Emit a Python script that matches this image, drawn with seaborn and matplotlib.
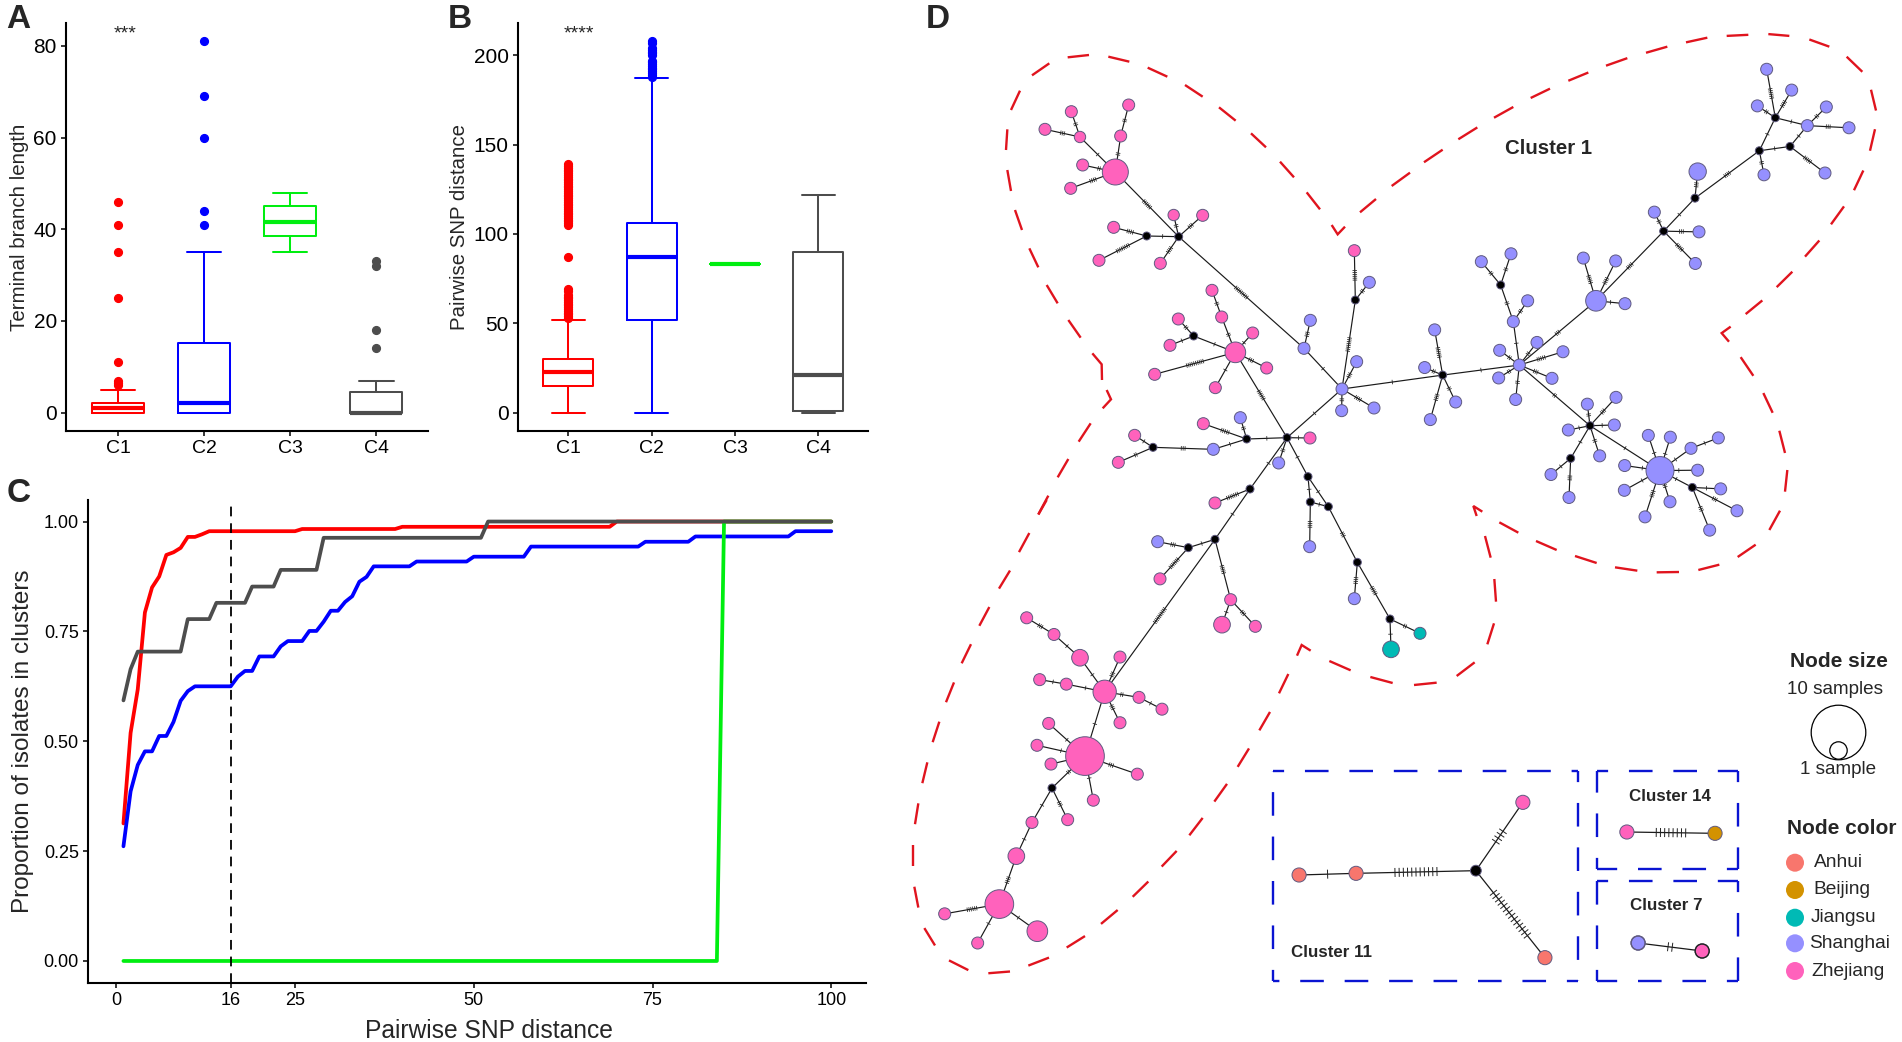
import numpy as np
import pandas as pd
import matplotlib
matplotlib.use("Agg")
import matplotlib.pyplot as plt
from matplotlib.collections import LineCollection
import seaborn as sns

# ---------- Panels A / B: box summaries (lo, q1, median, q3, hi) and outliers ----------
clusters = ["C1", "C2", "C3", "C4"]
cluster_colors = ["#FF0000", "#0000FF", "#00EE10", "#4D4D4D"]

branch_c1 = (0, 0, 1, 2, 5)
branch_c2 = (0, 0, 2, 15.3, 35)
branch_c3 = (35, 38.5, 41.5, 45, 48)
branch_c4 = (0, 0, 0, 4.5, 7)
branch_out_c1 = [6, 6.5, 7, 11, 25, 35, 41, 46]
branch_out_c2 = [41, 44, 60, 69, 81]
branch_out_c3 = []
branch_out_c4 = [14, 18, 32, 33]

snp_c1 = (0, 15, 23, 30, 52)
snp_c2 = (0, 52, 87, 106, 187)
snp_c3 = (83, 83, 83, 83, 83)
snp_c4 = (0, 1, 21, 90, 122)
snp_out_c1 = [53, 54, 55, 56, 57, 58, 59, 60, 61, 62, 63, 64, 65, 66, 68, 69, 87,
              105, 106, 107, 108, 109, 110, 111, 112, 113, 114, 115, 116, 117, 118, 119, 120,
              121, 122, 123, 124, 125, 126, 127, 128, 129, 130, 131, 132, 133, 134, 135, 136,
              137, 138, 139]
snp_out_c2 = [188, 189, 190, 191, 192, 193, 194, 195, 196, 197, 200, 201, 202, 203, 204, 207, 208]
snp_out_c3 = []
snp_out_c4 = []

# ---------- Panel C: cumulative curves (SNP distance, proportion) ----------
red_x = [1, 2, 3, 4, 5, 6, 7, 8, 9, 10, 11, 12, 13, 25, 26, 39, 40, 69, 70, 100]
red_y = [.313, .519, .618, .793, .85, .875, .924, .93, .94, .965, .965, .971, .978, .978, .983,
         .983, .988, .988, 1, 1]
blue_x = [1, 2, 3, 4, 5, 6, 7, 8, 9, 10, 11, 16, 17, 18, 19, 20, 22, 23, 24, 26, 27, 28, 29, 30,
          31, 32, 33, 34, 35, 36, 41, 42, 49, 50, 57, 58, 73, 74, 80, 81, 94, 95, 100]
blue_y = [.261, .386, .446, .477, .477, .512, .512, .544, .592, .614, .625, .625, .647, .66, .66,
          .693, .693, .716, .728, .728, .751, .751, .772, .797, .797, .817, .83, .863, .874, .898,
          .898, .909, .909, .92, .92, .943, .943, .954, .954, .966, .966, .978, .978]
green_x = [1, 84, 85, 100]
green_y = [0, 0, 1, 1]
grey_x = [1, 2, 3, 9, 10, 13, 14, 18, 19, 22, 23, 28, 29, 51, 52, 100]
grey_y = [.593, .664, .704, .704, .778, .778, .815, .815, .852, .852, .89, .89, .963, .963, 1, 1]
c_xticks = [0, 16, 25, 50, 75, 100]
c_yticks = [0, .25, .5, .75, 1]
threshold = 16

province_colors = {"Anhui": "#F8766D", "Beijing": "#D39200", "Jiangsu": "#00BAB5",
                   "Shanghai": "#9590FF", "Zhejiang": "#FF62BC", "Inferred": "#000000"}
P, L, J, A, B, K = "Zhejiang", "Shanghai", "Jiangsu", "Anhui", "Beijing", "Inferred"

crops = {"t": (920, 0, 3, 3), "c": (1160, 400, 3, 3), "b": (900, 500, 3, 2.878),
         "r": (1400, 0, 3, 2.786), "i": (1250, 640, 2.404, 3), "s": (1450, 470, 3, 3)}

# x, y, radius, province
nodes_t = [(586, 516, 39, P), (626, 315, 18, P), (454, 335, 18, P), (375, 388, 18, P), (480, 411, 17, P),
           (602, 408, 18, P), (488, 495, 18, P), (452, 565, 18, P), (776, 710, 12, K), (680, 708, 12, K),
           (761, 645, 17, P), (848, 646, 18, P), (581, 682, 18, P), (537, 781, 18, P), (721, 790, 18, P),
           (1303, 752, 18, P), (1348, 847, 18, L), (1306, 900, 12, K), (1171, 961, 18, L), (1152, 1045, 18, L),
           (876, 871, 18, P), (905, 951, 18, P), (775, 957, 18, P), (821, 1008, 12, K), (750, 1036, 18, P),
           (946, 1057, 31, P), (998, 999, 18, P), (1040, 1104, 18, P), (704, 1123, 18, P), (886, 1163, 18, P),
           (1310, 1085, 18, L), (1266, 1167, 18, L), (1265, 1232, 18, L), (1362, 1224, 18, L), (595, 1387, 18, P),
           (644, 1306, 18, P), (699, 1342, 12, K)]
nodes_c = [(381, 113, 12, K), (260, 117, 12, K), (130, 71, 18, P), (241, 53, 18, L), (160, 148, 18, L),
           (450, 114, 18, P), (356, 189, 18, L), (270, 267, 12, K), (165, 309, 18, P), (165, 418, 12, K),
           (85, 443, 12, K), (444, 230, 12, K), (451, 306, 12, K), (505, 320, 12, K), (449, 440, 18, L),
           (592, 487, 12, K), (583, 596, 18, L), (690, 657, 12, K), (780, 700, 18, J), (693, 748, 25, J),
           (212, 599, 18, P), (186, 674, 25, P), (286, 679, 18, P)]
nodes_b = [(773, 120, 18, L), (780, 227, 18, P), (380, 339, 18, P), (462, 387, 18, P), (614, 552, 35, P),
           (540, 454, 25, P), (660, 452, 18, P), (419, 517, 18, P), (499, 530, 18, P), (717, 568, 18, P),
           (786, 602, 18, P), (660, 641, 18, P), (446, 643, 18, P), (411, 706, 18, P), (453, 760, 18, P),
           (555, 737, 58, P), (712, 789, 18, P), (580, 864, 18, P), (456, 829, 12, K), (396, 928, 18, P),
           (503, 920, 18, P), (349, 1025, 25, P), (298, 1163, 43, P), (134, 1191, 18, P), (233, 1275, 18, P),
           (412, 1241, 31, P)]
nodes_r = [(1100, 193, 18, L), (1175, 251, 18, L), (1072, 295, 18, L), (1126, 328, 12, K), (1279, 298, 18, L),
           (1222, 350, 18, L), (1347, 356, 18, L), (1078, 420, 12, K), (1170, 408, 12, K), (1092, 487, 18, L),
           (1275, 482, 18, L), (893, 478, 26, L), (885, 552, 12, K), (763, 591, 18, L), (791, 644, 12, K),
           (897, 646, 18, L), (886, 734, 18, L), (244, 729, 18, L), (333, 707, 18, L), (302, 794, 12, K),
           (383, 838, 18, L), (550, 719, 18, L), (647, 727, 18, L), (588, 838, 31, L), (675, 846, 18, L),
           (340, 896, 18, L), (411, 954, 18, L), (299, 976, 18, L), (489, 980, 18, L), (358, 1017, 18, L),
           (296, 1053, 18, L), (456, 1054, 18, L), (347, 1113, 18, L), (104, 919, 18, L), (74, 1024, 18, L),
           (128, 1045, 12, K), (167, 1120, 18, L), (91, 1169, 18, L), (648, 1107, 18, L), (562, 1126, 18, L),
           (570, 1186, 12, K), (505, 1198, 18, L), (643, 1184, 18, L), (599, 1270, 18, L), (512, 1277, 12, K),
           (453, 1322, 18, L), (507, 1386, 18, L), (745, 1213, 18, L), (811, 1218, 18, L), (873, 1249, 18, L),
           (955, 1220, 18, L), (674, 1297, 18, L), (780, 1311, 42, L), (893, 1310, 18, L), (877, 1358, 12, K),
           (962, 1362, 18, L), (1011, 1423, 18, L), (673, 1366, 18, L), (810, 1398, 18, L), (735, 1440, 18, L),
           (929, 1477, 18, L)]
nodes_i = [(118, 705, 17, A), (255, 700, 17, A), (543, 692, 13, K), (656, 487, 17, P), (709, 953, 17, A),
           (906, 576, 17, P), (1118, 580, 17, B), (933, 909, 17, L), (1087, 933, 17, P)]

# from node, to node, number of mutation marks
edges_main = [("t1", "t5", 2), ("t5", "t0", 2), ("t2", "t4", 2), ("t3", "t4", 3), ("t4", "t0", 1), ("t6", "t0", 2),
              ("t7", "t0", 4), ("t0", "t8", 6), ("t8", "t9", 1), ("t9", "t12", 4), ("t9", "t13", 8), ("t8", "t10", 2),
              ("t8", "t11", 3), ("t8", "t14", 4), ("t8", "t19", 9), ("t19", "t18", 3), ("t19", "t31", 1),
              ("t31", "t17", 8), ("t17", "t15", 6), ("t17", "t16", 2), ("t31", "t30", 3), ("t31", "t32", 2),
              ("t31", "t33", 4), ("t20", "t21", 2), ("t21", "t25", 2), ("t22", "t23", 2), ("t24", "t23", 1),
              ("t23", "t25", 1), ("t28", "t25", 10), ("t26", "t25", 1), ("t27", "t25", 3), ("t29", "t25", 1),
              ("t25", "c0", 6), ("t31", "c0", 1), ("t34", "t36", 2), ("t35", "t36", 1), ("t36", "c4", 3),
              ("c0", "c1", 1), ("c1", "c2", 5), ("c1", "c3", 2), ("c1", "c4", 1), ("c0", "c5", 1), ("c0", "c6", 2),
              ("c0", "c7", 1), ("c7", "c8", 7), ("c7", "c9", 1), ("c9", "c10", 1), ("c0", "c11", 1), ("c11", "c12", 1),
              ("c12", "c13", 1), ("c11", "c13", 1), ("c12", "c14", 4), ("c13", "c15", 3), ("c15", "c16", 4),
              ("c15", "c17", 5), ("c17", "c18", 2), ("c17", "c19", 1), ("c9", "c20", 5), ("c20", "c21", 1),
              ("c20", "c22", 3), ("c9", "b4", 10), ("c10", "b0", 3), ("c10", "b1", 7),
              ("b2", "b3", 3), ("b3", "b5", 1), ("b5", "b4", 1), ("b6", "b4", 3), ("b7", "b8", 1), ("b8", "b4", 1),
              ("b4", "b9", 2), ("b9", "b10", 1), ("b4", "b11", 3), ("b4", "b15", 1), ("b12", "b15", 1),
              ("b13", "b15", 1), ("b14", "b15", 1), ("b15", "b16", 3), ("b15", "b17", 1), ("b15", "b18", 2),
              ("b18", "b19", 1), ("b18", "b20", 3), ("b19", "b21", 1), ("b21", "b22", 4), ("b22", "b23", 6),
              ("b22", "b24", 1), ("b22", "b25", 1),
              ("r0", "r3", 6), ("r1", "r3", 4), ("r2", "r3", 2), ("r3", "r5", 1), ("r4", "r5", 2), ("r5", "r6", 3),
              ("r3", "r7", 1), ("r5", "r8", 1), ("r7", "r8", 1), ("r7", "r9", 2), ("r8", "r10", 5), ("r7", "r12", 4),
              ("r12", "r11", 3), ("r12", "r14", 1), ("r14", "r13", 2), ("r14", "r15", 3), ("r14", "r16", 5),
              ("r14", "r23", 4), ("r23", "r21", 5), ("r23", "r22", 4), ("r23", "r24", 1), ("r23", "r29", 3),
              ("r29", "r25", 1), ("r25", "r19", 2), ("r19", "r17", 2), ("r19", "r18", 2), ("r25", "r20", 2),
              ("r29", "r26", 2), ("r29", "r27", 2), ("r29", "r28", 5), ("r29", "r30", 2), ("r29", "r31", 3),
              ("r29", "r32", 2), ("r29", "r35", 1), ("r35", "r33", 6), ("r35", "r34", 2), ("r35", "r36", 2),
              ("r35", "r37", 4), ("r29", "r40", 2), ("r40", "r39", 2), ("r40", "r38", 3), ("r40", "r41", 1),
              ("r40", "r42", 1), ("r40", "r43", 2), ("r40", "r44", 1), ("r44", "r45", 1), ("r44", "r46", 3),
              ("r40", "r52", 1), ("r52", "r47", 1), ("r52", "r48", 1), ("r52", "r49", 1), ("r49", "r50", 1),
              ("r52", "r51", 1), ("r52", "r53", 1), ("r52", "r54", 1), ("r54", "r55", 1), ("r54", "r56", 3),
              ("r54", "r60", 3), ("r52", "r57", 1), ("r52", "r58", 2), ("r52", "r59", 4), ("t31", "r35", 1)]
edges_inset = [("i0", "i1", 1), ("i1", "i2", 11), ("i2", "i3", 4), ("i2", "i4", 14), ("i5", "i6", 8), ("i7", "i8", 2)]

# dashed outline of cluster 1, one dash per row
dashes_t = [[(1470, 518), (1415, 558)], [(1368, 597), (1320, 637)], [(1275, 680), (1253, 703), (1235, 675)],
            [(1200, 628), (1160, 577)], [(1122, 532), (1080, 485)], [(1038, 442), (993, 400)], [(947, 362), (897, 322)],
            [(848, 290), (795, 255)], [(742, 230), (683, 203)], [(628, 185), (565, 170)], [(507, 165), (443, 172)],
            [(388, 190), (336, 226)], [(300, 272), (273, 330)], [(262, 388), (258, 450)], [(262, 510), (273, 573)],
            [(285, 630), (306, 690)], [(328, 745), (355, 802)], [(380, 855), (413, 910)], [(445, 960), (482, 1013)],
            [(517, 1060), (545, 1093), (546, 1140)], [(560, 1170), (573, 1198), (548, 1225)], [(512, 1270), (476, 1325)],
            [(445, 1377), (413, 1432)], [(385, 1487), (355, 1543)]]
dashes_b = [[(440, 0), (415, 42)], [(388, 95), (357, 150)], [(330, 203), (297, 255)], [(268, 308), (238, 362)],
            [(213, 415), (185, 470)], [(162, 525), (138, 582)], [(118, 638), (98, 697)], [(82, 755), (67, 815)],
            [(55, 873), (45, 933)], [(40, 993), (40, 1053)], [(43, 1113), (55, 1173)], [(73, 1232), (105, 1282)],
            [(147, 1325), (205, 1353)], [(265, 1362), (330, 1357)], [(385, 1340), (447, 1317)], [(500, 1288), (555, 1255)],
            [(603, 1220), (653, 1180)], [(698, 1142), (745, 1098)], [(785, 1055), (830, 1010)], [(868, 965), (908, 915)],
            [(943, 868), (981, 817)], [(1013, 768), (1047, 715)], [(1078, 663), (1110, 610)]]
dashes_c = [[(385, 822), (357, 880)], [(411, 767), (425, 735), (452, 752)], [(508, 783), (572, 811)],
            [(631, 831), (698, 849)], [(762, 855), (830, 848)], [(890, 828), (944, 787)], [(982, 733), (1002, 670)],
            [(1008, 605), (1003, 537)], [(992, 473), (975, 408)], [(950, 348), (940, 318), (967, 335)],
            [(1018, 367), (1075, 398)]]
dashes_s = [[(258, 213), (320, 240)], [(375, 258), (440, 279)], [(495, 292), (562, 302)], [(620, 307), (687, 306)],
            [(745, 300), (808, 284)], [(863, 261), (917, 224)], [(958, 180), (990, 122)], [(1005, 65), (1012, 0)]]
dashes_r = [[(1155, 1262), (1138, 1200)], [(1118, 1150), (1090, 1095)], [(1060, 1047), (1022, 995)],
            [(987, 952), (965, 928), (992, 910)], [(1037, 875), (1087, 837)], [(1130, 800), (1177, 757)],
            [(1215, 715), (1258, 670)], [(1293, 625), (1332, 575)], [(1362, 530), (1390, 475)], [(1410, 420), (1425, 360)],
            [(1428, 308), (1413, 250)], [(1387, 200), (1340, 158)], [(1288, 130), (1228, 110)], [(1168, 100), (1105, 95)],
            [(1045, 97), (980, 100)], [(922, 105), (858, 118)], [(802, 130), (738, 147)], [(682, 162), (618, 183)],
            [(565, 202), (505, 225)], [(450, 247), (392, 273)], [(340, 298), (282, 328)], [(232, 355), (175, 388)],
            [(128, 417), (72, 452)]]

# inset frames (left, top, right, bottom) and legend
frames = [(55, 393, 788, 1022), (835, 393, 1172, 688), (833, 722, 1172, 1022)]
legend_provinces = ["Anhui", "Beijing", "Jiangsu", "Shanghai", "Zhejiang"]
legend_dot_y = [862.7, 890, 917.7, 943.3, 971]
legend_text_x = [1813.5, 1813.5, 1810.5, 1809, 1811]

# ---------- Drawing ----------
W, H = 1902, 1042
sns.set_style("ticks")
plt.rcParams["font.family"] = ["Liberation Sans", "DejaVu Sans"]
plt.rcParams["lines.scale_dashes"] = False
fig = plt.figure(figsize=(W / 100, H / 100), dpi=100, facecolor="white")


def panel(left, top, right, bottom):
    ax = fig.add_axes([left / W, 1 - bottom / H, (right - left) / W, (bottom - top) / H])
    ax.set_facecolor("none")
    sns.despine(ax=ax)
    for s in ("left", "bottom"):
        ax.spines[s].set_linewidth(1.5)
        ax.spines[s].set_color("black")
    ax.tick_params(length=3.3, width=1.1, color="black", labelcolor="black")
    return ax


def samples(summary, outliers):
    lo, q1, med, q3, hi = summary
    k = len(outliers) + 2
    pad = k - 1 - len(outliers)
    return [lo] + [q1] * k + [med] * k + [q3] * (k + pad) + [hi] + list(outliers)


def boxes(ax, summaries, outs):
    frame = pd.concat([pd.DataFrame({"cluster": c, "value": samples(s, o)})
                       for c, s, o in zip(clusters, summaries, outs)])
    sns.boxplot(data=frame, x="cluster", y="value", hue="cluster", order=clusters, hue_order=clusters,
                palette=cluster_colors, fill=False, dodge=False, width=0.6, linewidth=1.45, fliersize=5.6,
                capwidths=0.4, medianprops={"linewidth": 3.0}, flierprops={"marker": "o"},
                legend=False, ax=ax)
    for line in ax.lines:
        if line.get_marker() == "o":
            line.set_markerfacecolor(line.get_markeredgecolor())
    ax.set_xlim(-0.6, 3.6)
    ax.set_xlabel("")
    ax.tick_params(axis="x", labelsize=14)
    ax.tick_params(axis="y", labelsize=15)


axA = panel(66.3, 23, 428, 431)
boxes(axA, [branch_c1, branch_c2, branch_c3, branch_c4],
      [branch_out_c1, branch_out_c2, branch_out_c3, branch_out_c4])
axA.set_ylim(-4, 85)
axA.set_yticks([0, 20, 40, 60, 80])
axA.set_ylabel("Terminal branch length", fontsize=14.8)
axA.yaxis.set_label_coords(-0.104, 0.5)
axA.text(0.08, 82.5, "***", ha="center", va="center", fontsize=14)

axB = panel(518.3, 23, 868.3, 431)
boxes(axB, [snp_c1, snp_c2, snp_c3, snp_c4], [snp_out_c1, snp_out_c2, snp_out_c3, snp_out_c4])
axB.set_ylim(-10.2, 218)
axB.set_yticks([0, 50, 100, 150, 200])
axB.set_ylabel("Pairwise SNP distance", fontsize=14.7)
axB.yaxis.set_label_coords(-0.141, 0.5)
axB.text(0.128, 212, "****", ha="center", va="center", fontsize=14)

axC = panel(88.2, 500, 866.3, 982.5)
curves = pd.concat([pd.DataFrame({"distance": x, "proportion": y, "cluster": c}) for c, x, y in
                    zip(clusters, [red_x, blue_x, green_x, grey_x], [red_y, blue_y, green_y, grey_y])])
sns.lineplot(data=curves, x="distance", y="proportion", hue="cluster", hue_order=clusters,
             palette=cluster_colors, linewidth=2.7, estimator=None, sort=False, legend=False, ax=axC)
axC.axvline(threshold, color="black", linestyle=(0, (7, 5)), linewidth=1.3)
axC.set_xlim(-3.93, 104.9)
axC.set_ylim(-0.049, 1.049)
axC.set_xticks(c_xticks)
axC.set_yticks(c_yticks)
axC.set_yticklabels([f"{v:.2f}" for v in c_yticks])
axC.tick_params(labelsize=13)
axC.set_xlabel("Pairwise SNP distance", fontsize=17.7)
axC.set_ylabel("Proportion of isolates in clusters", fontsize=17.5)
axC.xaxis.set_label_coords(0.5146, -0.075)
axC.yaxis.set_label_coords(-0.07, 0.5)

# Whole-figure layer in picture coordinates for the network
axD = fig.add_axes([0, 0, 1, 1])
axD.set_xlim(0, W)
axD.set_ylim(H, 0)
axD.axis("off")
axD.set_facecolor("none")


def place(crop, x, y):
    ox, oy, sx, sy = crops[crop]
    return ox + x / sx, oy + y / sy


rows = []
lookup = {}
for crop, table in (("t", nodes_t), ("c", nodes_c), ("b", nodes_b), ("r", nodes_r), ("i", nodes_i)):
    for n, (x, y, r, prov) in enumerate(table):
        px, py = place(crop, x, y)
        radius = r / crops[crop][2]
        lookup[f"{crop}{n}"] = (px, py)
        rows.append({"x": px, "y": py, "province": prov, "area": (2 * radius * 0.72) ** 2})
net = pd.DataFrame(rows)


def draw_edges(edges, tick_len, tick_gap, lw, tick_lw):
    lines, marks = [], []
    for a, b, n in edges:
        p, q = np.array(lookup[a]), np.array(lookup[b])
        lines.append([p, q])
        d = (q - p) / np.linalg.norm(q - p)
        normal = np.array([-d[1], d[0]])
        mid = (p + q) / 2
        for off in (np.arange(n) - (n - 1) / 2) * tick_gap:
            c = mid + d * off
            marks.append([c - normal * tick_len / 2, c + normal * tick_len / 2])
    axD.add_collection(LineCollection(lines, colors="#1a1a1a", linewidths=lw, zorder=1))
    axD.add_collection(LineCollection(marks, colors="#222222", linewidths=tick_lw, zorder=1))


draw_edges(edges_main, 4.5, 1.9, 0.85, 0.55)
draw_edges(edges_inset, 9, 4.2, 0.9, 0.7)

sns.scatterplot(data=net, x="x", y="y", hue="province", palette=province_colors, size="area",
                sizes=(net["area"].min(), net["area"].max()), edgecolor="#5f5a80", linewidth=0.7,
                legend=False, zorder=3, ax=axD)
axD.set_xlabel("")
axD.set_ylabel("")
for key in ("i7", "i8"):
    axD.scatter(*lookup[key], s=(2 * 7 * 0.72) ** 2, facecolor="none",
                edgecolor="#222222" if key == "i8" else "#5f5a80", linewidth=1.0, zorder=4)

for crop, table in (("t", dashes_t), ("b", dashes_b), ("c", dashes_c), ("s", dashes_s), ("r", dashes_r)):
    for dash in table:
        pts = [place(crop, x, y) for x, y in dash]
        axD.plot(*zip(*pts), color="#E0141E", linewidth=1.7, solid_capstyle="butt",
                 solid_joinstyle="miter", zorder=2)

for l, t, r, b in frames:
    x0, y0 = place("i", l, t)
    x1, y1 = place("i", r, b)
    for seg in ([(x0, y0), (x1, y0)], [(x1, y0), (x1, y1)], [(x1, y1), (x0, y1)], [(x0, y1), (x0, y0)]):
        axD.plot(*zip(*seg), color="#0A14D2", linewidth=1.7, dash_capstyle="butt",
                 linestyle=(9, (17, 15)), zorder=2)

axD.text(1548.7, 148, "Cluster 1", fontsize=14.7, fontweight="bold", ha="center", va="center")
axD.text(1331.5, 952.7, "Cluster 11", fontsize=12.2, fontweight="bold", ha="center", va="center")
axD.text(1669.7, 796.7, "Cluster 14", fontsize=12.2, fontweight="bold", ha="center", va="center")
axD.text(1666, 905, "Cluster 7", fontsize=12.2, fontweight="bold", ha="center", va="center")

axD.text(1838.7, 661.7, "Node size", fontsize=15, fontweight="bold", ha="center", va="center")
axD.text(1835, 690, "10 samples", fontsize=13.6, ha="center", va="center")
axD.text(1838.3, 769, "1 sample", fontsize=13.6, ha="center", va="center")
axD.scatter([1837.7], [731.7], s=(2 * 27.3 * 0.72) ** 2, facecolor="white", edgecolor="black", linewidth=0.9, zorder=3)
axD.scatter([1837.7], [750.3], s=(2 * 8.7 * 0.72) ** 2, facecolor="white", edgecolor="black", linewidth=0.9, zorder=4)
axD.text(1841.5, 829, "Node color", fontsize=15, fontweight="bold", ha="center", va="center")
legend_frame = pd.DataFrame({"province": legend_provinces, "x": 1795, "y": legend_dot_y})
sns.scatterplot(data=legend_frame, x="x", y="y", hue="province", palette=province_colors,
                s=(2 * 9 * 0.72) ** 2, linewidth=0, legend=False, zorder=3, ax=axD)
axD.set_xlabel("")
axD.set_ylabel("")
for name, y, x in zip(legend_provinces, legend_dot_y, legend_text_x):
    axD.text(x, y, name, fontsize=13.8, ha="left", va="center")

for letter, x, y in (("A", 6, 19), ("B", 448, 19), ("C", 7, 493), ("D", 926, 19)):
    axD.text(x, y, letter, fontsize=24, fontweight="bold", ha="left", va="center")

fig.savefig("out.png", dpi=100, facecolor="white")
